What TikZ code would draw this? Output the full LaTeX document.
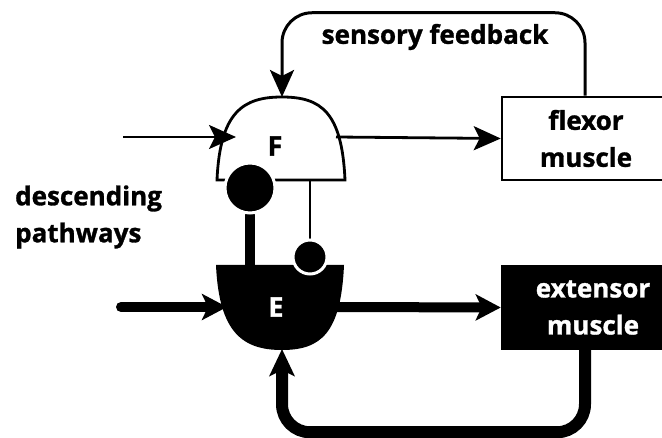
\documentclass[tikz,border=0pt]{standalone}
\usepackage{fontspec}
\setmainfont{Open Sans}[BoldFeatures={FakeBold=1.2}]
\usetikzlibrary{arrows.meta}
\begin{document}
\begin{tikzpicture}[x=1pt,y=-1pt,
  lbl/.style={font=\fontsize{26}{37}\selectfont\bfseries, align=center, inner sep=0pt},
  letter/.style={font=\fontsize{27}{30}\selectfont\bfseries, inner sep=0pt},
  thinline/.style={line width=2.8pt},
  fatline/.style={line width=10pt},
  tiparrow/.style={-{Stealth[length=27pt,width=24pt,inset=6pt]}},
  musclebox/.style={rectangle, draw=black, line width=2.5pt, minimum height=83pt, inner sep=0pt, font=\fontsize{26}{37}\selectfont\bfseries, align=center}]
\useasboundingbox (0,0) rectangle (662,438);
\clip (0,0) rectangle (662,438);

% coordinates on the two gates
\coordinate (Ftop) at (282,97);
\coordinate (Fin) at (236,137);
\coordinate (Fout) at (336,137);
\coordinate (Fdrop) at (310,180);
\coordinate (Ein) at (227,307);
\coordinate (Eout) at (336,307);
\coordinate (Ebot) at (282,349);
\coordinate (inF) at (123,137);
\coordinate (inE) at (121,307);

% muscle boxes
\node[musclebox, minimum width=168pt, fill=white] (flex) at (586,138.5) {flexor\\muscle};
\node[musclebox, minimum width=182pt, fill=black, text=white] (ext) at (593,307.5) {extensor\\muscle};

% F gate
\fill[white] (217,180) .. controls (220,112) and (243,97) .. (282,97)
  .. controls (321,97) and (342,112) .. (345,180) -- cycle;
\draw[line width=2.8pt, line join=miter] (217,180) .. controls (220,112) and (243,97) .. (282,97)
  .. controls (321,97) and (342,112) .. (345,180) -- cycle;
\node[letter] (F) at (275,146) {F};

% E gate
\fill[black] (216,265) .. controls (219,333) and (243,350) .. (282,350)
  .. controls (321,350) and (341,333) .. (344,265) -- cycle;
\node[letter, text=white] (E) at (276,307) {E};

% inhibitory connections
\draw[fatline] (250,195) -- (250,268);
\node[circle, fill=black, draw=white, line width=3pt, minimum size=50pt, inner sep=0pt] (bigdot) at (250,188) {};
\draw[thinline] (Fdrop) -- (310,245);
\node[circle, fill=black, draw=white, line width=3pt, minimum size=34pt, inner sep=0pt] (smalldot) at (310,257) {};

% signal arrows
\draw[thinline, tiparrow] (inF) -- (Fin);
\draw[thinline, tiparrow] (Fout) -- (flex.west);
\draw[fatline, line cap=round, -{Stealth[length=25pt,width=26pt,inset=6pt]}] (inE) -- (Ein);
\draw[fatline, -{Stealth[length=25pt,width=26pt,inset=6pt]}] (Eout) -- (ext.west);

% feedback loops
\draw[line width=3pt, rounded corners=30pt, tiparrow] ([xshift=-1pt]flex.north) -- ++(0,-83) -| (Ftop);
\draw[line width=12pt, rounded corners=28pt, -{Stealth[length=27pt,width=25pt,inset=6pt]}] ([xshift=-8pt]ext.south) -- ++(0,82) -| (Ebot);

% labels
\node[lbl] (sens) at (435,37) {sensory feedback};
\node[lbl, anchor=west, align=left] (desc) at (15,217) {descending\\pathways};
\end{tikzpicture}
\end{document}
